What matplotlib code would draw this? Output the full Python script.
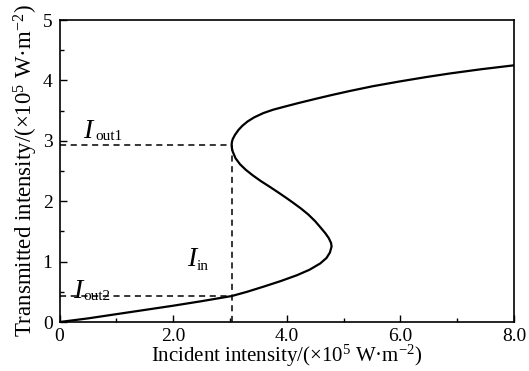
import numpy as np
import matplotlib
matplotlib.use("Agg")
import matplotlib.pyplot as plt
from matplotlib.ticker import MultipleLocator, FixedLocator

plt.rcParams['font.family'] = ['Liberation Serif', 'DejaVu Serif']
plt.rcParams['mathtext.fontset'] = 'custom'
plt.rcParams['mathtext.rm'] = 'Liberation Serif'
plt.rcParams['mathtext.it'] = 'Liberation Serif:italic'

# S-curve, ordered along the curve (output rising)
incident = [0.00, 0.50, 1.00, 1.50, 2.00, 2.50, 3.03, 3.30, 3.59, 3.90, 4.18, 4.40,
            4.59, 4.70, 4.76, 4.79, 4.78, 4.74, 4.68, 4.60, 4.50, 4.38, 4.25, 4.12,
            4.00, 3.86, 3.70, 3.55, 3.40, 3.28, 3.18, 3.10, 3.05, 3.035, 3.03, 3.035,
            3.05, 3.09, 3.15, 3.22, 3.31, 3.43, 3.59, 3.76, 3.95, 4.20, 4.53, 4.80,
            5.11, 5.52, 6.00, 6.45, 6.87, 7.42, 8.00]
transmitted = [0.00, 0.06, 0.13, 0.20, 0.27, 0.345, 0.43, 0.50, 0.585, 0.68, 0.775, 0.865,
               0.97, 1.06, 1.15, 1.25, 1.31, 1.39, 1.47, 1.56, 1.67, 1.78, 1.88, 1.97,
               2.05, 2.14, 2.24, 2.33, 2.43, 2.52, 2.61, 2.71, 2.82, 2.88, 2.93, 2.98,
               3.03, 3.10, 3.18, 3.25, 3.32, 3.39, 3.46, 3.515, 3.563, 3.624, 3.70, 3.76,
               3.825, 3.905, 3.985, 4.055, 4.115, 4.185, 4.25]

i_in = 3.03
i_out1 = 2.93
i_out2 = 0.43

xticks = [0, 2, 4, 6, 8]
xticklabels = ['0', '2.0', '4.0', '6.0', '8.0']
yticks = [0, 1, 2, 3, 4, 5]

fig = plt.figure(figsize=(5.29, 3.71), dpi=100)
ax = fig.add_axes([0.1125, 0.132, 0.859, 0.814])

ax.plot(incident, transmitted, color='black', lw=1.6, solid_joinstyle='round')
ax.plot([0, i_in], [i_out1, i_out1], 'k--', lw=1.1, dashes=(4, 3))
ax.plot([0, i_in], [i_out2, i_out2], 'k--', lw=1.1, dashes=(4, 3))
ax.plot([i_in, i_in], [0, i_out1], 'k--', lw=1.1, dashes=(4, 3))

# big italic I with small upright subscript, as in the figure
def label(x, y, xs, ys, sub):
    ax.text(x, y, 'I', fontsize=20, style='italic', va='baseline')
    ax.text(xs, ys, sub, fontsize=11, va='baseline')

label(0.42, 3.05, 0.64, 3.02, 'out1')
label(0.24, 0.40, 0.42, 0.37, 'out2')
label(2.24, 0.93, 2.41, 0.86, 'in')

ax.set_xlim(0, 8)
ax.set_ylim(0, 5)
ax.xaxis.set_major_locator(FixedLocator(xticks))
ax.set_xticklabels(xticklabels)
ax.xaxis.set_minor_locator(MultipleLocator(1))
ax.yaxis.set_major_locator(FixedLocator(yticks))
ax.yaxis.set_minor_locator(MultipleLocator(0.5))
ax.tick_params(which='both', direction='in', top=False, right=False, labelsize=14)
ax.tick_params(axis='x', pad=4)
ax.tick_params(axis='y', pad=5)
ax.tick_params(which='major', length=5, width=1)
ax.tick_params(which='minor', length=3, width=1)
for s in ax.spines.values():
    s.set_linewidth(1.2)

ax.set_xlabel('Incident intensity/(×10$^5$ W·m$^{-2}$)', fontsize=15, labelpad=-1)
ax.set_ylabel('Transmitted intensity/(×10$^5$ W·m$^{-2}$)', fontsize=16.5, labelpad=2)

fig.savefig('out.png', dpi=100)
